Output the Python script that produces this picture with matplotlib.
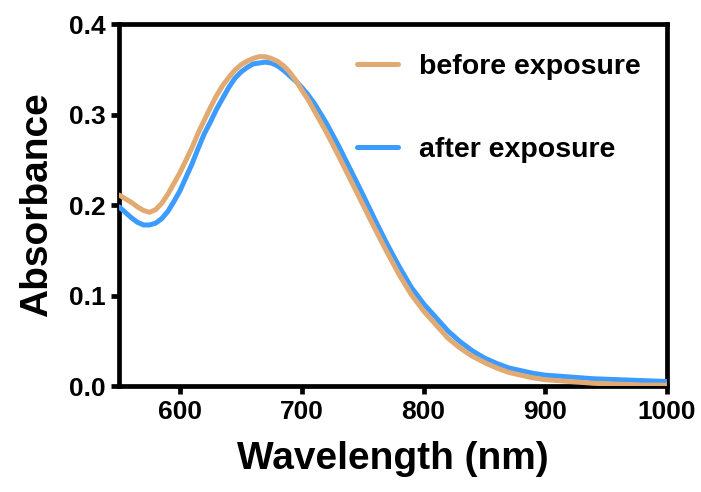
import matplotlib
matplotlib.use("Agg")
import matplotlib.pyplot as plt

plt.rcParams['font.family'] = ['Liberation Sans', 'DejaVu Sans']

# Absorbance spectra, wavelength in nm
wavelength = [550, 555, 560, 565, 570, 575, 580, 585, 590, 595, 600, 605, 610, 615,
              620, 625, 630, 635, 640, 645, 650, 655, 660, 665, 670, 675, 680, 685,
              690, 695, 700, 705, 710, 715, 720, 730, 740, 750, 760, 770, 780, 790,
              800, 810, 820, 830, 840, 850, 860, 870, 880, 890, 900, 920, 940, 960,
              980, 1000]
abs_before = [0.211, 0.207, 0.203, 0.198, 0.194, 0.192, 0.195, 0.202, 0.212, 0.224,
              0.236, 0.250, 0.264, 0.280, 0.294, 0.308, 0.321, 0.332, 0.341, 0.349,
              0.355, 0.359, 0.362, 0.364, 0.364, 0.362, 0.359, 0.354, 0.347, 0.338,
              0.327, 0.317, 0.305, 0.293, 0.281, 0.255, 0.228, 0.201, 0.174, 0.148,
              0.123, 0.101, 0.083, 0.068, 0.053, 0.042, 0.033, 0.026, 0.020, 0.015,
              0.012, 0.009, 0.007, 0.005, 0.003, 0.002, 0.001, 0.001]
abs_after = [0.198, 0.192, 0.186, 0.181, 0.178, 0.178, 0.180, 0.185, 0.193, 0.204,
             0.216, 0.231, 0.246, 0.263, 0.279, 0.292, 0.306, 0.318, 0.330, 0.340,
             0.347, 0.352, 0.356, 0.357, 0.358, 0.357, 0.354, 0.349, 0.343, 0.337,
             0.330, 0.322, 0.313, 0.302, 0.291, 0.266, 0.239, 0.212, 0.184, 0.157,
             0.132, 0.109, 0.091, 0.076, 0.061, 0.049, 0.039, 0.031, 0.025, 0.020,
             0.017, 0.014, 0.012, 0.010, 0.008, 0.007, 0.006, 0.005]

x_ticks = [600, 700, 800, 900, 1000]
y_ticks = [0.0, 0.1, 0.2, 0.3, 0.4]

c_before = '#E2AA73'
c_after = '#3C9BFF'

fig = plt.figure(figsize=(7.01, 4.92), dpi=100)
ax = fig.add_axes([0.170, 0.2154, 0.7815, 0.7356])

ax.plot(wavelength, abs_after, color=c_after, lw=3.6, label='after exposure',
        solid_capstyle='round', solid_joinstyle='round', zorder=3)
ax.plot(wavelength, abs_before, color=c_before, lw=3.6, label='before exposure',
        solid_capstyle='round', solid_joinstyle='round', zorder=4)

ax.set_xlim(550, 1000)
ax.set_ylim(0, 0.4)
ax.set_xticks(x_ticks)
ax.set_yticks(y_ticks)
ax.set_yticklabels([f'{v:.1f}' for v in y_ticks])

for s in ax.spines.values():
    s.set_linewidth(3.4)
ax.tick_params(axis='both', direction='out', length=6, width=3.4,
               labelsize=19, pad=4)
for lab in ax.get_xticklabels() + ax.get_yticklabels():
    lab.set_fontweight('bold')

ax.set_xlabel('Wavelength (nm)', fontsize=28, fontweight='bold', labelpad=12)
ax.set_ylabel('Absorbance', fontsize=28, fontweight='bold', labelpad=10)

handles, labels = ax.get_legend_handles_labels()
leg = ax.legend(handles[::-1], labels[::-1], loc='upper left',
                bbox_to_anchor=(0.413, 0.948), frameon=False,
                prop={'size': 20.5, 'weight': 'bold'},
                handlelength=1.45, handletextpad=0.72, labelspacing=2.0,
                borderaxespad=0)

fig.savefig('out.png', dpi=100)
